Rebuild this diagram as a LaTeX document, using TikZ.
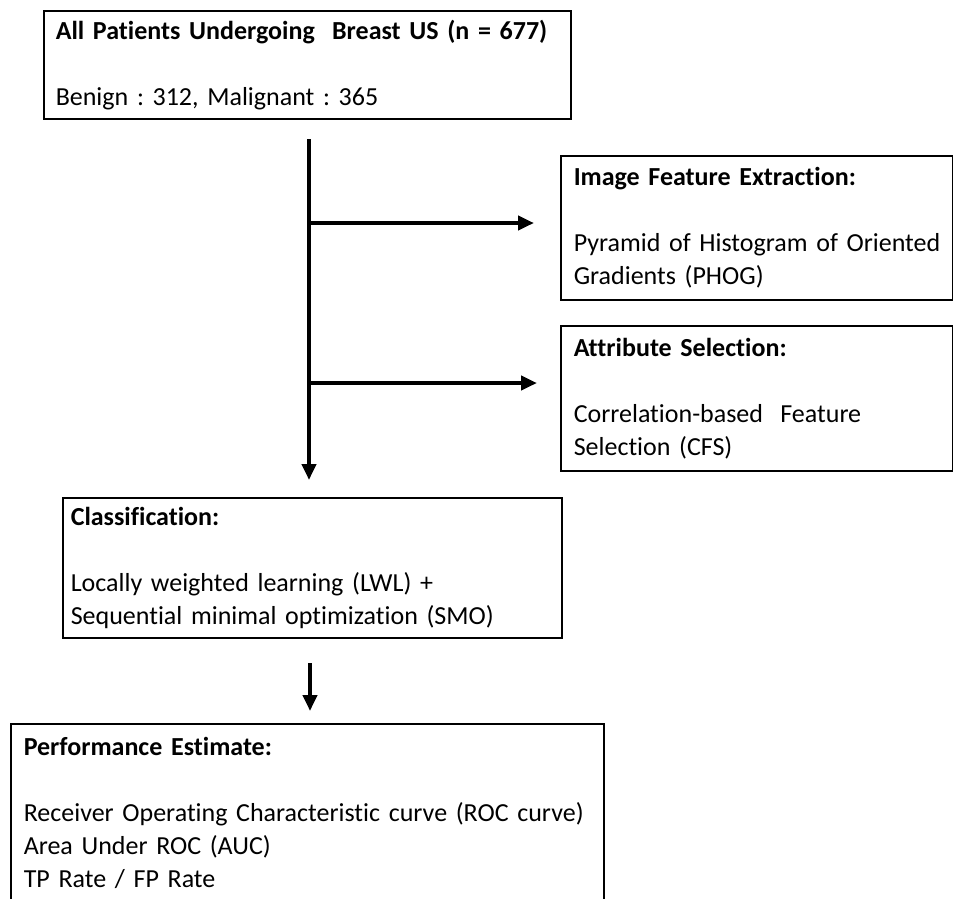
\documentclass[tikz,border=0pt]{standalone}
\usepackage{fontspec}
\setmainfont{Carlito}[Ligatures=NoCommon]
\usetikzlibrary{arrows.meta}
\tikzset{
	stagebox/.style={draw=black, line width=1.5pt, anchor=north west, align=left,
		inner xsep=13pt, inner ysep=0pt, font=\fontsize{26}{33}\selectfont\frenchspacing},
	flow/.style={line width=4pt, -{Triangle[length=16pt,width=14pt]}}
}

\begin{document}
\begin{tikzpicture}[x=1pt, y=-1pt]
			%%%%% START %%%%%
			\useasboundingbox (0, 0) rectangle (953, 898);
			
			\node[stagebox, inner xsep=12pt, text width=503pt, minimum height=108pt] (patients) at (43, 10)
				{\mbox{\textbf{All Patients Undergoing\ \ Breast US (n = 677)}}\\[33pt]Benign : 312, Malignant : 365};
			
			\node[stagebox, text width=366pt, minimum height=144pt] (extract) at (560, 155)
				{\textbf{Image Feature Extraction:}\\[33pt]\mbox{Pyramid of Histogram of Oriented}\\Gradients (PHOG)};
			
			\node[stagebox, text width=366pt, minimum height=145pt] (select) at (560, 325)
				{\textbf{Attribute\ Selection:}\\[33pt]Correlation-based\ \ Feature\\Selection (CFS)};
			
			\node[stagebox, inner xsep=8pt, text width=483pt, minimum height=140pt] (classify) at (62, 497)
				{\textbf{Classification:}\\[33pt]Locally weighted learning (LWL) +\\Sequential minimal optimization (SMO)};
			
			\node[stagebox, text width=567pt, minimum height=178pt] (perf) at (10, 723)
				{\textbf{Performance\ Estimate:}\\[33pt]\mbox{Receiver Operating Characteristic curve (ROC curve)}\\Area Under ROC (AUC)\\TP Rate / FP Rate};
			
			\coordinate (trunk) at (309, 139);
			\coordinate (fork1) at (309, 223);
			\coordinate (fork2) at (309, 383);
			\coordinate (drop) at (310, 663);
			
			\draw[flow, shorten >=17pt] (trunk) -- (trunk |- classify.north);
			\draw[flow, shorten >=26pt] ([xshift=-2pt]fork1) -- (fork1 -| extract.west);
			\draw[flow, shorten >=23pt] ([xshift=-2pt]fork2) -- (fork2 -| select.west);
			\draw[flow, shorten >=12pt] (drop) -- (drop |- perf.north);
			%%%%% END %%%%%
\end{tikzpicture}
\end{document}
